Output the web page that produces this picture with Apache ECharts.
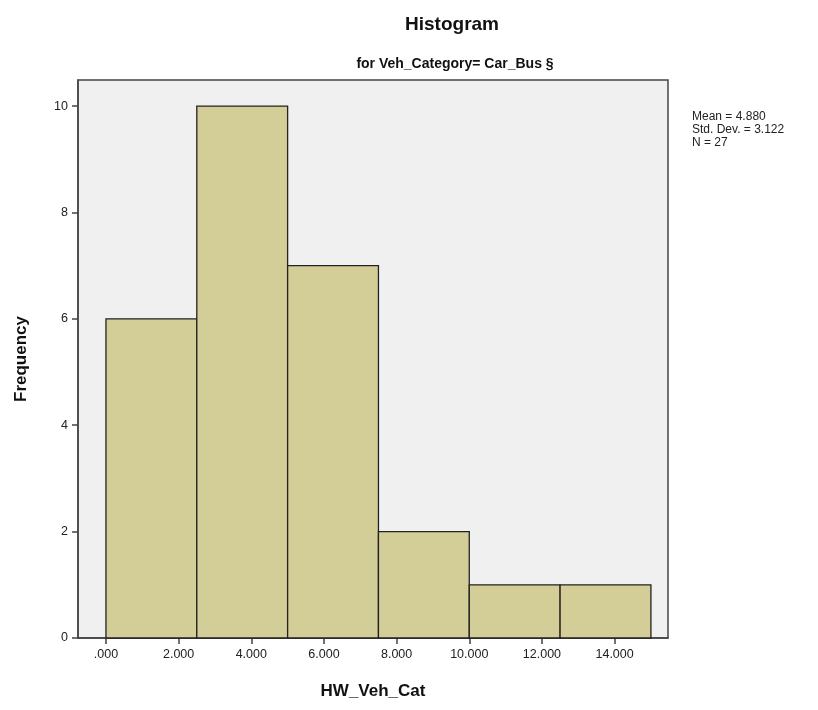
<!DOCTYPE html>
<html><head><meta charset="utf-8">
<script src="https://cdn.jsdelivr.net/npm/echarts@6/dist/echarts.min.js"></script>
<style>html,body{margin:0;padding:0;background:#fff}#c{width:818px;height:710px}</style>
</head><body><div id="c"></div>
<script>
const binStarts = [0, 2.5, 5, 7.5, 10, 12.5];
const binEnds = [2.5, 5, 7.5, 10, 12.5, 15];
const frequencies = [6, 10, 7, 2, 1, 1];
const xTicks = [0, 2, 4, 6, 8, 10, 12, 14];
const yTicks = [0, 2, 4, 6, 8, 10];
const statsLines = ['Mean = 4.880', 'Std. Dev. = 3.122', 'N = 27'];

const data = binStarts.map((s, i) => [s, binEnds[i], frequencies[i]]);
const font = '"Liberation Sans", Arial, sans-serif';
const chart = echarts.init(document.getElementById('c'));
chart.setOption({
  animation: false,
  title: [
    {text: 'Histogram', left: 447, top: 10, textAlign: 'center',
     textStyle: {fontFamily: font, fontSize: 19, fontWeight: 'bold', color: '#111'}},
    {text: 'for Veh_Category= Car_Bus §', left: 450, top: 52, textAlign: 'center',
     textStyle: {fontFamily: font, fontSize: 14, fontWeight: 'bold', color: '#111'}}
  ],
  graphic: [{
    type: 'text', left: 692, top: 110,
    style: {text: statsLines.join('\n'), font: '12px ' + font, fill: '#222', lineHeight: 13}
  }],
  grid: {left: 78, right: 150, top: 80, bottom: 72, show: true,
         backgroundColor: '#F0F0F0', borderColor: '#444', borderWidth: 1.5},
  xAxis: {
    type: 'value', min: -0.77, max: 15.47,
    name: 'HW_Veh_Cat', nameLocation: 'middle', nameGap: 45,
    nameTextStyle: {fontFamily: font, fontSize: 17, fontWeight: 'bold', color: '#111'},
    axisLine: {onZero: false, lineStyle: {color: '#444', width: 1.5}},
    axisTick: {show: true, length: 6, customValues: xTicks, lineStyle: {color: '#444', width: 1.5}},
    axisLabel: {customValues: xTicks, fontFamily: font, fontSize: 12.5, color: '#222', margin: 10,
      formatter: v => v === 0 ? '.000' : v.toFixed(3)},
    splitLine: {show: false}
  },
  yAxis: {
    type: 'value', min: 0, max: 10.49,
    name: 'Frequency', nameLocation: 'middle', nameGap: 48, nameRotate: 90,
    nameTextStyle: {fontFamily: font, fontSize: 17, fontWeight: 'bold', color: '#111'},
    axisLine: {show: true, onZero: false, lineStyle: {color: '#444', width: 1.5}},
    axisTick: {show: true, length: 6, customValues: yTicks, lineStyle: {color: '#444', width: 1.5}},
    axisLabel: {customValues: yTicks, fontFamily: font, fontSize: 12.5, color: '#222', margin: 10},
    splitLine: {show: false}
  },
  series: [{
    type: 'custom',
    data: data,
    encode: {x: [0, 1], y: 2},
    renderItem: function (params, api) {
      const p0 = api.coord([api.value(0), api.value(2)]);
      const p1 = api.coord([api.value(1), 0]);
      return {
        type: 'rect',
        shape: {x: p0[0], y: p0[1], width: p1[0] - p0[0], height: p1[1] - p0[1]},
        style: {fill: '#D3CE98', stroke: '#222', lineWidth: 1.3}
      };
    }
  }]
});
</script></body></html>
